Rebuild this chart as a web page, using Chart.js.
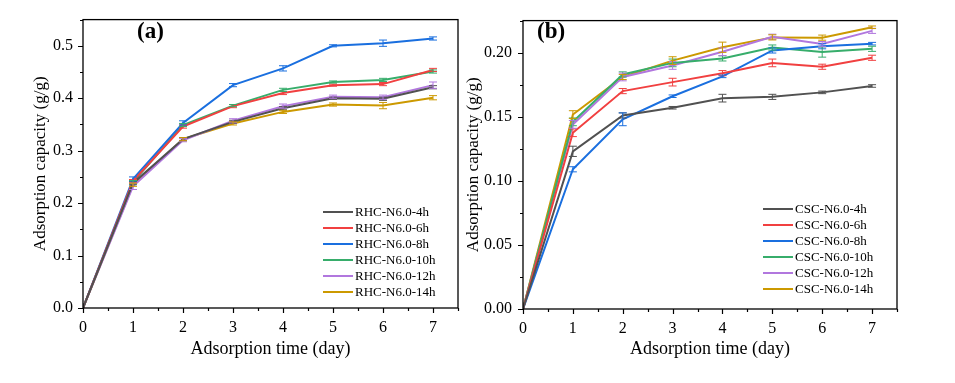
<!DOCTYPE html>
<html>
<head>
<meta charset="utf-8">
<script src="https://cdn.jsdelivr.net/npm/chart.js@4.4.0/dist/chart.umd.min.js"></script>
<style>
body{margin:0;background:#fff;width:955px;height:383px;position:relative;overflow:hidden}
#boxA{position:absolute;left:0;top:0;width:470px;height:383px}
#boxB{position:absolute;left:440px;top:0;width:515px;height:383px}
</style>
</head>
<body>
<div id="boxA"><canvas id="chartA"></canvas></div>
<div id="boxB"><canvas id="chartB"></canvas></div>
<script>
var days = [0, 1, 2, 3, 4, 5, 6, 7];
var colors = ['#515151', '#F14040', '#1A6FDF', '#37AD6B', '#B177DE', '#CC9900'];

// panel (a)
var labelsA = ['RHC-N6.0-4h', 'RHC-N6.0-6h', 'RHC-N6.0-8h', 'RHC-N6.0-10h', 'RHC-N6.0-12h', 'RHC-N6.0-14h'];
var rhc4h  = [0, 0.238, 0.322, 0.355, 0.381, 0.400, 0.399, 0.421];
var rhc6h  = [0, 0.242, 0.346, 0.385, 0.410, 0.425, 0.427, 0.454];
var rhc8h  = [0, 0.246, 0.353, 0.425, 0.457, 0.500, 0.505, 0.514];
var rhc10h = [0, 0.240, 0.349, 0.386, 0.416, 0.431, 0.435, 0.451];
var rhc12h = [0, 0.232, 0.320, 0.357, 0.385, 0.403, 0.402, 0.425];
var rhc14h = [0, 0.235, 0.322, 0.352, 0.374, 0.388, 0.386, 0.401];
var errA = [
  [0, 0.003, 0.003, 0.003, 0.003, 0.002, 0.003, 0.003],
  [0, 0.003, 0.003, 0.003, 0.003, 0.002, 0.003, 0.003],
  [0, 0.004, 0.004, 0.003, 0.005, 0.002, 0.006, 0.003],
  [0, 0.003, 0.003, 0.002, 0.003, 0.002, 0.003, 0.003],
  [0, 0.006, 0.003, 0.004, 0.004, 0.003, 0.004, 0.006],
  [0, 0.003, 0.003, 0.003, 0.003, 0.003, 0.006, 0.004]
];

// panel (b)
var labelsB = ['CSC-N6.0-4h', 'CSC-N6.0-6h', 'CSC-N6.0-8h', 'CSC-N6.0-10h', 'CSC-N6.0-12h', 'CSC-N6.0-14h'];
var csc4h  = [0, 0.123, 0.151, 0.157, 0.1645, 0.1655, 0.169, 0.174];
var csc6h  = [0, 0.1375, 0.170, 0.177, 0.184, 0.192, 0.189, 0.196];
var csc8h  = [0, 0.109, 0.148, 0.166, 0.1815, 0.2017, 0.205, 0.207];
var csc10h = [0, 0.146, 0.183, 0.192, 0.1955, 0.204, 0.2005, 0.203];
var csc12h = [0, 0.144, 0.181, 0.190, 0.2007, 0.2124, 0.2067, 0.217];
var csc14h = [0, 0.1517, 0.181, 0.1938, 0.2042, 0.2119, 0.2117, 0.2198];
var errB = [
  [0, 0.004, 0.002, 0.001, 0.003, 0.002, 0.001, 0.001],
  [0, 0.003, 0.002, 0.003, 0.002, 0.003, 0.002, 0.002],
  [0, 0.002, 0.005, 0.001, 0.001, 0.002, 0.002, 0.001],
  [0, 0.003, 0.002, 0.003, 0.002, 0.002, 0.004, 0.002],
  [0, 0.003, 0.003, 0.003, 0.003, 0.002, 0.002, 0.002],
  [0, 0.003, 0.002, 0.003, 0.004, 0.002, 0.002, 0.001]
];

var serif = '"Liberation Serif", "Times New Roman", serif';

function isMajor(v, step) {
  var r = v / step;
  return Math.abs(r - Math.round(r)) < 1e-6;
}

function makeDatasets(labels, series, errs) {
  return series.map(function (s, i) {
    return {
      label: labels[i],
      data: s.map(function (v, j) { return { x: days[j], y: v }; }),
      errors: errs[i],
      borderColor: colors[i],
      backgroundColor: colors[i],
      borderWidth: 2,
      pointRadius: 0,
      tension: 0,
      fill: false
    };
  });
}

// error bars, box, tick marks, legend, panel letter
var decoPlugin = {
  id: 'deco',
  afterDatasetsDraw: function (chart) {
    var c = chart.ctx, ys = chart.scales.y;
    c.save();
    c.lineWidth = 1;
    chart.data.datasets.forEach(function (ds, i) {
      var meta = chart.getDatasetMeta(i);
      c.strokeStyle = ds.borderColor;
      meta.data.forEach(function (pt, j) {
        var e = ds.errors[j];
        if (!e) return;
        var v = ds.data[j].y;
        var y1 = ys.getPixelForValue(v + e), y2 = ys.getPixelForValue(v - e);
        c.beginPath();
        c.moveTo(pt.x, y1); c.lineTo(pt.x, y2);
        c.moveTo(pt.x - 4, y1); c.lineTo(pt.x + 4, y1);
        c.moveTo(pt.x - 4, y2); c.lineTo(pt.x + 4, y2);
        c.stroke();
      });
    });
    c.restore();
  },
  afterDraw: function (chart, args, opts) {
    var c = chart.ctx, a = chart.chartArea;
    var xs = chart.scales.x, ys = chart.scales.y;
    c.save();
    c.strokeStyle = '#000';
    c.lineWidth = 1.3;
    c.strokeRect(a.left, a.top, a.right - a.left, a.bottom - a.top);
    c.lineWidth = 1.2;
    c.beginPath();
    xs.ticks.forEach(function (t) {
      var px = Math.round(xs.getPixelForValue(t.value)) + 0.5;
      var len = isMajor(t.value, 1) ? 5 : 3;
      c.moveTo(px, a.bottom); c.lineTo(px, a.bottom + len);
    });
    ys.ticks.forEach(function (t) {
      var py = Math.round(ys.getPixelForValue(t.value)) + 0.5;
      var len = isMajor(t.value, opts.yMajor) ? 5 : 3;
      c.moveTo(a.left, py); c.lineTo(a.left - len, py);
    });
    c.stroke();

    // legend
    c.font = '13px ' + serif;
    c.textBaseline = 'middle';
    c.fillStyle = '#000';
    chart.data.datasets.forEach(function (ds, i) {
      var y = opts.legY + i * 16;
      c.strokeStyle = ds.borderColor;
      c.lineWidth = 2;
      c.beginPath();
      c.moveTo(opts.legX, y); c.lineTo(opts.legX + 30, y);
      c.stroke();
      c.fillText(ds.label, opts.legX + 32, y + 1);
    });

    // panel letter
    c.font = 'bold 23px ' + serif;
    c.fillText(opts.letter, opts.letterX, opts.letterY);
    c.restore();
  }
};

function makeOptions(cfg) {
  return {
    responsive: true,
    maintainAspectRatio: false,
    animation: false,
    layout: { padding: { left: 0, top: cfg.top, right: cfg.right, bottom: 0 } },
    plugins: {
      legend: { display: false },
      tooltip: { enabled: false },
      deco: { yMajor: cfg.yMajor, legX: cfg.legX, legY: cfg.legY, letter: cfg.letter, letterX: cfg.letterX, letterY: cfg.letterY }
    },
    scales: {
      x: {
        type: 'linear',
        min: 0,
        max: 7.5,
        grid: { display: false, drawTicks: false },
        border: { display: false },
        ticks: {
          stepSize: 0.5,
          autoSkip: false,
          maxRotation: 0,
          padding: 10,
          color: '#000',
          font: { family: serif, size: 16 },
          callback: function (v) { return isMajor(v, 1) ? String(Math.round(v)) : ''; }
        },
        title: {
          display: true,
          text: 'Adsorption time (day)',
          color: '#000',
          font: { family: serif, size: 18 },
          padding: { top: 0, bottom: 23 }
        },
        afterFit: function (s) { s.height = cfg.xHeight; }
      },
      y: {
        min: 0,
        max: cfg.yMax,
        grid: { display: false, drawTicks: false },
        border: { display: false },
        ticks: {
          stepSize: cfg.yMajor / 2,
          autoSkip: false,
          padding: cfg.yPad,
          color: '#000',
          font: { family: serif, size: 16 },
          callback: function (v) { return isMajor(v, cfg.yMajor) ? v.toFixed(cfg.dec) : ''; }
        },
        title: {
          display: true,
          text: 'Adsorption capacity (g/g)',
          color: '#000',
          font: { family: serif, size: 17 },
          padding: { top: cfg.yTitlePad, bottom: 0 }
        },
        afterFit: function (s) { s.width = 83; }
      }
    }
  };
}

new Chart(document.getElementById('chartA'), {
  type: 'line',
  data: { datasets: makeDatasets(labelsA, [rhc4h, rhc6h, rhc8h, rhc10h, rhc12h, rhc14h], errA) },
  options: makeOptions({ top: 8, right: 12, xHeight: 75, yMax: 0.55, yMajor: 0.1, dec: 1, yPad: 10, yTitlePad: 30,
    legX: 323, legY: 212, letter: '(a)', letterX: 137, letterY: 32 }),
  plugins: [decoPlugin]
});

new Chart(document.getElementById('chartB'), {
  type: 'line',
  data: { datasets: makeDatasets(labelsB, [csc4h, csc6h, csc8h, csc10h, csc12h, csc14h], errB) },
  options: makeOptions({ top: 7.5, right: 58, xHeight: 74, yMax: 0.225, yMajor: 0.05, dec: 2, yPad: 11, yTitlePad: 23,
    legX: 323, legY: 209, letter: '(b)', letterX: 97, letterY: 32 }),
  plugins: [decoPlugin]
});
</script>
</body>
</html>
